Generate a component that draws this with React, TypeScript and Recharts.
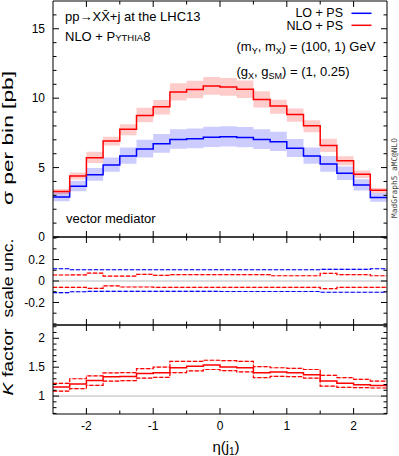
import React from 'react';
import { ComposedChart, Line, Area, XAxis, YAxis, ReferenceLine } from 'recharts';

const FONT = "'Liberation Sans', Arial, Helvetica, sans-serif";

// bin left edges of eta(j1), width 0.25
const binLeftEdges = [-2.5, -2.25, -2, -1.75, -1.5, -1.25, -1, -0.75, -0.5, -0.25, 0, 0.25, 0.5, 0.75, 1, 1.25, 1.5, 1.75, 2, 2.25];
const lastEdge = 2.5;

// sigma per bin [pb]
const loCentral = [2.89, 3.66, 4.49, 5.19, 5.84, 6.34, 6.72, 7.03, 7.08, 7.18, 7.22, 7.17, 7.03, 6.86, 6.39, 5.84, 5.26, 4.59, 3.75, 2.84];
const nloCentral = [3.27, 4.40, 5.71, 6.91, 7.77, 8.76, 9.38, 10.45, 10.62, 10.88, 10.81, 10.65, 9.91, 9.43, 8.83, 8.01, 6.60, 5.50, 4.52, 3.37];

// relative scale uncertainty
const loUp = [0.114, 0.105, 0.105, 0.105, 0.105, 0.105, 0.105, 0.105, 0.105, 0.105, 0.105, 0.105, 0.105, 0.105, 0.105, 0.105, 0.108, 0.108, 0.108, 0.114];
const loDn = [-0.108, -0.100, -0.096, -0.096, -0.096, -0.096, -0.096, -0.096, -0.096, -0.096, -0.098, -0.098, -0.098, -0.098, -0.098, -0.098, -0.105, -0.105, -0.105, -0.105];
const nloUp = [0.056, 0.058, 0.074, 0.046, 0.046, 0.062, 0.052, 0.060, 0.060, 0.059, 0.059, 0.059, 0.059, 0.049, 0.049, 0.049, 0.071, 0.059, 0.059, 0.049];
const nloDn = [-0.059, -0.059, -0.068, -0.046, -0.056, -0.056, -0.059, -0.059, -0.059, -0.059, -0.059, -0.059, -0.059, -0.059, -0.059, -0.059, -0.071, -0.059, -0.059, -0.059];

// K factor
const kCentral = [1.157, 1.21, 1.27, 1.336, 1.34, 1.39, 1.405, 1.49, 1.515, 1.54, 1.504, 1.49, 1.405, 1.417, 1.405, 1.37, 1.26, 1.22, 1.197, 1.185];
const kUp = [1.22, 1.30, 1.35, 1.40, 1.405, 1.475, 1.50, 1.60, 1.60, 1.62, 1.615, 1.60, 1.51, 1.49, 1.48, 1.46, 1.36, 1.32, 1.29, 1.26];
const kDn = [1.087, 1.13, 1.185, 1.26, 1.267, 1.31, 1.325, 1.405, 1.435, 1.46, 1.44, 1.42, 1.32, 1.34, 1.336, 1.31, 1.174, 1.15, 1.145, 1.14];

// ticks
const xTicks = [-2, -1.5, -1, -0.5, 0, 0.5, 1, 1.5, 2];
const xMajor = [-2, -1, 0, 1, 2];
const mainTicks = [0, 1, 2, 3, 4, 5, 6, 7, 8, 9, 10, 11, 12, 13, 14, 15, 16];
const mainMajor = [0, 5, 10, 15];
const uncTicks = [-0.4, -0.3, -0.2, -0.1, 0, 0.1, 0.2, 0.3, 0.4];
const uncMajor = [-0.2, 0, 0.2];
const kTicks = [0.7, 0.8, 0.9, 1, 1.1, 1.2, 1.3, 1.4, 1.5, 1.6, 1.7, 1.8, 1.9, 2, 2.1, 2.2];
const kMajor = [1, 1.5, 2];

function stepRows(cols: Record<string, any[]>) {
  const keys = Object.keys(cols);
  const rows: any[] = binLeftEdges.map((x, i) => {
    const r: any = { x };
    keys.forEach((k) => (r[k] = cols[k][i]));
    return r;
  });
  const last: any = { x: lastEdge };
  keys.forEach((k) => (last[k] = cols[k][cols[k].length - 1]));
  rows.push(last);
  return rows;
}

const mainRows = stepRows({
  lo: loCentral,
  nlo: nloCentral,
  loBand: loCentral.map((v, i) => [v * (1 + loDn[i]), v * (1 + loUp[i])]),
  nloBand: nloCentral.map((v, i) => [v * (1 + nloDn[i]), v * (1 + nloUp[i])]),
});
const uncRows = stepRows({ loUp, loDn, nloUp, nloDn });
const kRows = stepRows({ kCentral, kUp, kDn });

const isIn = (arr: number[], v: number) => arr.some((m) => Math.abs(m - v) < 1e-9);

const makeTick = (side: 'left' | 'right' | 'top' | 'bottom', majors: number[], label: boolean) => (props: any) => {
  const { x, y, payload } = props;
  const v = payload.value;
  const major = isIn(majors, v);
  const len = major ? 6 : 3.5;
  let ln: any = null;
  if (side === 'left') ln = <line x1={x} x2={x + len} y1={y} y2={y} stroke="#000" strokeWidth={1} />;
  if (side === 'right') ln = <line x1={x} x2={x - len} y1={y} y2={y} stroke="#000" strokeWidth={1} />;
  if (side === 'bottom') ln = <line x1={x} x2={x} y1={y} y2={y - len} stroke="#000" strokeWidth={1} />;
  if (side === 'top') ln = <line x1={x} x2={x} y1={y} y2={y + len} stroke="#000" strokeWidth={1} />;
  let tx: any = null;
  if (label && major) {
    if (side === 'left')
      tx = (
        <text x={x - 8} y={y + 4.2} textAnchor="end" fontSize={12} fontFamily={FONT} fill="#000">
          {String(v)}
        </text>
      );
    if (side === 'bottom')
      tx = (
        <text x={x} y={y + 16} textAnchor="middle" fontSize={12} fontFamily={FONT} fill="#000">
          {String(v)}
        </text>
      );
  }
  return (
    <g>
      {ln}
      {tx}
    </g>
  );
};

const axisLine = { stroke: '#000', strokeWidth: 1 };

const MARGIN_L = 52;
const MARGIN_R = 11;

function frame(yDomain: number[], yTicks: number[], yMajor: number[], xLabels: boolean) {
  return [
    <XAxis key="xb" xAxisId="b" type="number" dataKey="x" domain={[-2.5, 2.5]} allowDataOverflow ticks={xTicks} interval={0} height={1} tickSize={0} tickMargin={0} tickLine={false} axisLine={axisLine} tick={makeTick('bottom', xMajor, xLabels)} />,
    <XAxis key="xt" xAxisId="t" orientation="top" type="number" dataKey="x" domain={[-2.5, 2.5]} allowDataOverflow ticks={xTicks} interval={0} height={1} tickSize={0} tickMargin={0} tickLine={false} axisLine={axisLine} tick={makeTick('top', xMajor, false)} />,
    <YAxis key="yl" yAxisId="l" type="number" domain={yDomain} allowDataOverflow ticks={yTicks} interval={0} width={1} tickSize={0} tickMargin={0} tickLine={false} axisLine={axisLine} tick={makeTick('left', yMajor, true)} />,
    <YAxis key="yr" yAxisId="r" orientation="right" type="number" domain={yDomain} allowDataOverflow ticks={yTicks} interval={0} width={1} tickSize={0} tickMargin={0} tickLine={false} axisLine={axisLine} tick={makeTick('right', yMajor, false)} />,
  ];
}

const ids = { xAxisId: 'b', yAxisId: 'l' };

export default function App() {
  return (
    <div style={{ position: 'absolute', left: 0, top: 0, width: 399, height: 456, background: '#fff', overflow: 'hidden' }}>
      <div style={{ position: 'absolute', left: 0, top: 0 }}>
        <ComposedChart width={399} height={250} data={mainRows} margin={{ top: 0, right: MARGIN_R, bottom: 12, left: MARGIN_L }}>
          {frame([0, 17], mainTicks, mainMajor, false)}
          <Area {...ids} type="stepAfter" dataKey="loBand" stroke="none" fill="#0000ff" fillOpacity={0.2} isAnimationActive={false} dot={false} activeDot={false} />
          <Area {...ids} type="stepAfter" dataKey="nloBand" stroke="none" fill="#ff0000" fillOpacity={0.2} isAnimationActive={false} dot={false} activeDot={false} />
          <Line {...ids} type="stepAfter" dataKey="lo" stroke="#0000ff" strokeWidth={1.5} dot={false} activeDot={false} isAnimationActive={false} />
          <Line {...ids} type="stepAfter" dataKey="nlo" stroke="#ff0000" strokeWidth={1.5} dot={false} activeDot={false} isAnimationActive={false} />
        </ComposedChart>
      </div>
      <div style={{ position: 'absolute', left: 0, top: 236 }}>
        <ComposedChart width={399} height={90} data={uncRows} margin={{ top: 0, right: MARGIN_R, bottom: 0, left: MARGIN_L }}>
          {frame([-0.41, 0.41], uncTicks, uncMajor, false)}
          <ReferenceLine {...ids} y={0} stroke="#b8b8b8" strokeWidth={1} />
          <Line {...ids} type="stepAfter" dataKey="loUp" stroke="#b8b8ff" strokeWidth={1.2} dot={false} activeDot={false} isAnimationActive={false} />
          <Line {...ids} type="stepAfter" dataKey="loDn" stroke="#b8b8ff" strokeWidth={1.2} dot={false} activeDot={false} isAnimationActive={false} />
          <Line {...ids} type="stepAfter" dataKey="nloUp" stroke="#ffb8b8" strokeWidth={1.2} dot={false} activeDot={false} isAnimationActive={false} />
          <Line {...ids} type="stepAfter" dataKey="nloDn" stroke="#ffb8b8" strokeWidth={1.2} dot={false} activeDot={false} isAnimationActive={false} />
          <Line {...ids} type="stepAfter" dataKey="loUp" stroke="#0000ff" strokeWidth={1.2} strokeDasharray="4 2" dot={false} activeDot={false} isAnimationActive={false} />
          <Line {...ids} type="stepAfter" dataKey="loDn" stroke="#0000ff" strokeWidth={1.2} strokeDasharray="4 2" dot={false} activeDot={false} isAnimationActive={false} />
          <Line {...ids} type="stepAfter" dataKey="nloUp" stroke="#ff0000" strokeWidth={1.2} strokeDasharray="4 2" dot={false} activeDot={false} isAnimationActive={false} />
          <Line {...ids} type="stepAfter" dataKey="nloDn" stroke="#ff0000" strokeWidth={1.2} strokeDasharray="4 2" dot={false} activeDot={false} isAnimationActive={false} />
        </ComposedChart>
      </div>
      <div style={{ position: 'absolute', left: 0, top: 324 }}>
        <ComposedChart width={399} height={133} data={kRows} margin={{ top: 0, right: MARGIN_R, bottom: 42, left: MARGIN_L }}>
          {frame([0.69, 2.23], kTicks, kMajor, true)}
          <ReferenceLine {...ids} y={1} stroke="#b8b8b8" strokeWidth={1} />
          <Line {...ids} type="stepAfter" dataKey="kUp" stroke="#ffb8b8" strokeWidth={1.2} dot={false} activeDot={false} isAnimationActive={false} />
          <Line {...ids} type="stepAfter" dataKey="kDn" stroke="#ffb8b8" strokeWidth={1.2} dot={false} activeDot={false} isAnimationActive={false} />
          <Line {...ids} type="stepAfter" dataKey="kUp" stroke="#ff0000" strokeWidth={1.2} strokeDasharray="4 2" dot={false} activeDot={false} isAnimationActive={false} />
          <Line {...ids} type="stepAfter" dataKey="kDn" stroke="#ff0000" strokeWidth={1.2} strokeDasharray="4 2" dot={false} activeDot={false} isAnimationActive={false} />
          <Line {...ids} type="stepAfter" dataKey="kCentral" stroke="#ff0000" strokeWidth={1.5} dot={false} activeDot={false} isAnimationActive={false} />
        </ComposedChart>
      </div>
      <svg width={399} height={456} style={{ position: 'absolute', left: 0, top: 0, pointerEvents: 'none' }} fontFamily={FONT}>
        <text x={65} y={21} fontSize={13} fill="#000">pp→X{'X\u0304'}+j at the LHC13</text>
        <text x={65} y={40.5} fontSize={13} fill="#000">
          NLO + P<tspan fontSize={9.5}>YTHIA</tspan>8
        </text>
        <text x={66} y={222.5} fontSize={13} fill="#000">vector mediator</text>
        <text x={343} y={17} fontSize={12.5} textAnchor="end" fill="#000">LO + PS</text>
        <line x1={351.5} x2={371.5} y1={13.3} y2={13.3} stroke="#0000ff" strokeWidth={1.5} />
        <text x={343} y={29.5} fontSize={12.5} textAnchor="end" fill="#000">NLO + PS</text>
        <line x1={351.5} x2={371.5} y1={25.3} y2={25.3} stroke="#ff0000" strokeWidth={1.5} />
        <text x={236.5} y={51} fontSize={13} fill="#000">
          (m<tspan fontSize={9} dy={3}>Y</tspan>
          <tspan dy={-3}>, m</tspan>
          <tspan fontSize={9} dy={3}>X</tspan>
          <tspan dy={-3}>) = (100, 1) GeV</tspan>
        </text>
        <text x={236.5} y={75.5} fontSize={13} fill="#000">
          (g<tspan fontSize={9} dy={3}>X</tspan>
          <tspan dy={-3}>, g</tspan>
          <tspan fontSize={9} dy={3}>SM</tspan>
          <tspan dy={-3}>) = (1, 0.25)</tspan>
        </text>
        <text transform="translate(13,138) rotate(-90)" textAnchor="middle" fontSize={15} fill="#000" textLength={134} lengthAdjust="spacingAndGlyphs">σ per bin [pb]</text>
        <text transform="translate(13.3,278) rotate(-90)" textAnchor="middle" fontSize={15} fill="#000" textLength={79} lengthAdjust="spacingAndGlyphs">scale unc.</text>
        <text transform="translate(13.3,362) rotate(-90)" textAnchor="middle" fontSize={15} fill="#000" textLength={67} lengthAdjust="spacingAndGlyphs">
          <tspan fontStyle="italic">K</tspan> factor
        </text>
        <text x={226} y={452} textAnchor="middle" fontSize={15} fill="#000">
          η(j<tspan fontSize={10} dy={3}>1</tspan>
          <tspan dy={-3}>)</tspan>
        </text>
        <text transform="translate(397,178) rotate(-90)" textAnchor="middle" fontSize={7.8} fill="#444" fontFamily="'DejaVu Sans Mono', monospace">MadGraph5_aMC@NLO</text>
      </svg>
    </div>
  );
}
